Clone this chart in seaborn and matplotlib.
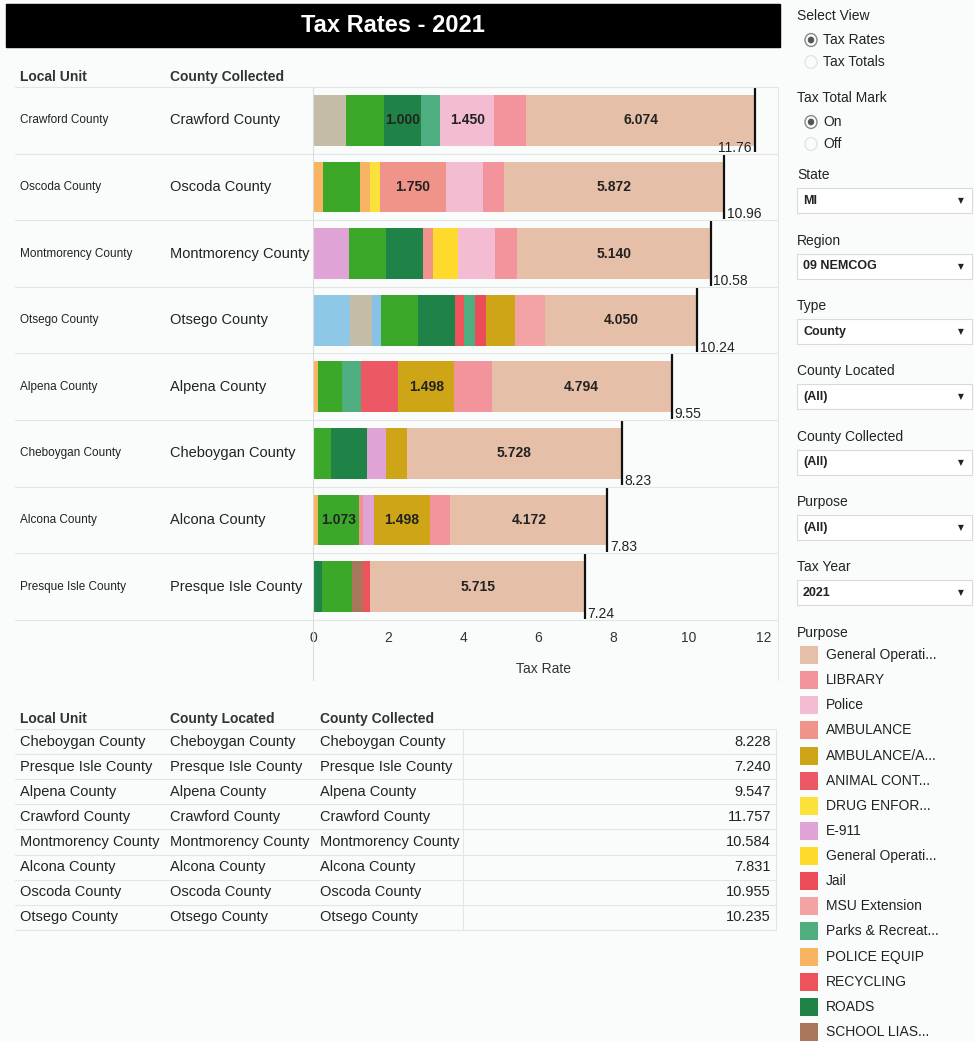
import numpy as np
import pandas as pd
import seaborn as sns
import matplotlib.pyplot as plt
from matplotlib.patches import Rectangle, Circle
from matplotlib.lines import Line2D

# counties, top to bottom in the bar chart
counties = ["Crawford County", "Oscoda County", "Montmorency County", "Otsego County",
            "Alpena County", "Cheboygan County", "Alcona County", "Presque Isle County"]

# purposes shown in the legend (display labels are truncated like the dashboard)
purposes = ["General Operating", "LIBRARY", "Police", "AMBULANCE", "AMBULANCE/ALS",
            "ANIMAL CONTROL", "DRUG ENFORCEMENT", "E-911", "General Operating Voted", "Jail",
            "MSU Extension", "Parks & Recreation", "POLICE EQUIP", "RECYCLING", "ROADS",
            "SCHOOL LIAISON"]
legend_labels = ["General Operati...", "LIBRARY", "Police", "AMBULANCE", "AMBULANCE/A...",
                 "ANIMAL CONT...", "DRUG ENFOR...", "E-911", "General Operati...", "Jail",
                 "MSU Extension", "Parks & Recreat...", "POLICE EQUIP", "RECYCLING", "ROADS",
                 "SCHOOL LIAS..."]
purpose_colors = ["#E6BFA8", "#F3939B", "#F4BCD3", "#F0938A", "#CDA516", "#EC5863", "#FCE13A",
                  "#E0A3D6", "#FDDA2B", "#EB4C58", "#F3A3A3", "#4EAE80", "#F8B460", "#EE535B",
                  "#1F8348", "#A8765A"]
# purposes further down the (scrolled) legend
hidden_purposes = ["SENIOR CITIZENS", "VETERANS", "SOIL CONSERVATION", "SOLDIERS RELIEF", "SHERIFF"]
hidden_colors = ["#3BA82A", "#8FC7E6", "#88C2E6", "#C4BCA6", "#F7B563"]

# segments of each bar, left to right (purpose, tax rate)
segments = {
    "Crawford County": [("SOLDIERS RELIEF", 0.89), ("SENIOR CITIZENS", 0.99), ("ROADS", 1.000),
                        ("Parks & Recreation", 0.50), ("Police", 1.450), ("LIBRARY", 0.853),
                        ("General Operating", 6.074)],
    "Oscoda County": [("POLICE EQUIP", 0.27), ("SENIOR CITIZENS", 0.99), ("SHERIFF", 0.27),
                      ("DRUG ENFORCEMENT", 0.25), ("AMBULANCE", 1.750), ("Police", 0.99),
                      ("LIBRARY", 0.563), ("General Operating", 5.872)],
    "Montmorency County": [("E-911", 0.96), ("SENIOR CITIZENS", 0.99), ("ROADS", 0.99),
                           ("AMBULANCE", 0.25), ("General Operating Voted", 0.66), ("Police", 0.99),
                           ("LIBRARY", 0.604), ("General Operating", 5.140)],
    "Otsego County": [("VETERANS", 0.99), ("SOLDIERS RELIEF", 0.58), ("SOIL CONSERVATION", 0.24),
                      ("SENIOR CITIZENS", 0.99), ("ROADS", 0.99), ("RECYCLING", 0.23),
                      ("Parks & Recreation", 0.28), ("Jail", 0.31), ("AMBULANCE/ALS", 0.775),
                      ("MSU Extension", 0.80), ("General Operating", 4.050)],
    "Alpena County": [("POLICE EQUIP", 0.135), ("SENIOR CITIZENS", 0.64), ("Parks & Recreation", 0.50),
                      ("ANIMAL CONTROL", 0.99), ("AMBULANCE/ALS", 1.498), ("LIBRARY", 0.99),
                      ("General Operating", 4.794)],
    "Cheboygan County": [("SENIOR CITIZENS", 0.47), ("ROADS", 0.98), ("E-911", 0.50),
                         ("AMBULANCE/ALS", 0.55), ("General Operating", 5.728)],
    "Alcona County": [("POLICE EQUIP", 0.14), ("SENIOR CITIZENS", 1.073), ("AMBULANCE", 0.13),
                      ("E-911", 0.27), ("AMBULANCE/ALS", 1.498), ("LIBRARY", 0.548),
                      ("General Operating", 4.172)],
    "Presque Isle County": [("ROADS", 0.23), ("SENIOR CITIZENS", 0.795), ("SCHOOL LIAISON", 0.31),
                            ("RECYCLING", 0.19), ("General Operating", 5.715)],
}

# order of the detail table below the chart
table_order = ["Cheboygan County", "Presque Isle County", "Alpena County", "Crawford County",
               "Montmorency County", "Alcona County", "Oscoda County", "Otsego County"]

palette = dict(zip(purposes + hidden_purposes, purpose_colors + hidden_colors))

rows = []
for c in counties:
    right = 0.0
    for rank, (p, v) in enumerate(segments[c]):
        right += v
        rows.append({"county": c, "purpose": p, "value": v, "rank": rank, "right": right})
df = pd.DataFrame(rows)
totals = df.groupby("county")["value"].sum().round(3)

W, H = 974, 1042
BG = "#FAFBFB"
FONT = "Liberation Sans"

sns.set_theme(style="white")
plt.rcParams["font.family"] = [FONT, "DejaVu Sans"]

fig = plt.figure(figsize=(W / 100, H / 100), dpi=100, facecolor=BG)


def fx(x):
    return x / W


def fy(y):
    return 1 - y / H


def hline(x0, x1, y, color="#E2E6E6", lw=0.8):
    fig.add_artist(Line2D([fx(x0), fx(x1)], [fy(y), fy(y)], color=color, lw=lw))


def vline(x, y0, y1, color="#E2E6E6", lw=0.8):
    fig.add_artist(Line2D([fx(x), fx(x)], [fy(y0), fy(y1)], color=color, lw=lw))


# title bar
fig.add_artist(Rectangle((fx(6), fy(47)), fx(780) - fx(6), fy(4) - fy(47), color="black"))
fig.text(fx(393), fy(26), "Tax Rates - 2021", color="white", fontsize=17, fontweight="bold",
         ha="center", va="center")

# chart header
fig.text(fx(20), fy(77), "Local Unit", fontsize=10, fontweight="bold", color="#333", va="center")
fig.text(fx(170), fy(77), "County Collected", fontsize=10, fontweight="bold", color="#333", va="center")

top, bottom = 87, 620
row_h = (bottom - top) / len(counties)
ax = fig.add_axes([fx(313), fy(bottom), (775 - 313) / W, (bottom - top) / H])
ax.set_facecolor("none")

# stacked bars: draw cumulative widths from the last segment to the first
for r in sorted(df["rank"].unique(), reverse=True):
    sub = df[df["rank"] == r]
    sns.barplot(data=sub, x="right", y="county", hue="purpose", palette=palette, order=counties,
                dodge=False, width=0.76, legend=False, errorbar=None, linewidth=0,
                saturation=1, ax=ax)

for i, c in enumerate(counties):
    left = 0.0
    for p, v in segments[c]:
        if v >= 1.0:
            ax.text(left + v / 2, i, f"{v:.3f}", ha="center", va="center", fontsize=10,
                    fontweight="bold", color="#222")
        left += v
    t = totals[c]
    ax.vlines(t, i - 0.49, i + 0.48, color="#111", lw=1.6)
    lab = f"{t + 1e-6:.2f}"
    if t > 11.5:
        ax.text(t - 0.07, i + 0.41, lab, ha="right", va="center", fontsize=10, color="#222")
    else:
        ax.text(t + 0.07, i + 0.41, lab, ha="left", va="center", fontsize=10, color="#222")

ax.set_xlim(0, 12.3)
ax.set_ylim(len(counties) - 0.5, -0.5)
ax.set_xticks([0, 2, 4, 6, 8, 10, 12])
ax.set_xticklabels(["0", "2", "4", "6", "8", "10", "12"], fontsize=10, color="#333")
ax.set_yticks([])
ax.set_ylabel("")
ax.set_xlabel("Tax Rate", fontsize=10, color="#333", labelpad=12)
ax.tick_params(axis="x", length=0, pad=8)
for s in ax.spines.values():
    s.set_visible(False)

# row labels and separators
for i, c in enumerate(counties):
    yc = top + (i + 0.5) * row_h
    fig.text(fx(20), fy(yc), c, fontsize=8.5, color="#222", va="center")
    fig.text(fx(170), fy(yc), c, fontsize=10.5, color="#222", va="center")
for k in range(len(counties) + 1):
    hline(15, 778, top + k * row_h)
vline(313, top, 680, color="#D8DCDC")
vline(778, top, 680)

# detail table
fig.text(fx(20), fy(719), "Local Unit", fontsize=10, fontweight="bold", color="#333", va="center")
fig.text(fx(170), fy(719), "County Located", fontsize=10, fontweight="bold", color="#333", va="center")
fig.text(fx(320), fy(719), "County Collected", fontsize=10, fontweight="bold", color="#333", va="center")
t_top, t_step = 729, 25.1
for k, c in enumerate(table_order):
    yc = t_top + (k + 0.5) * t_step
    for xx in (20, 170, 320):
        fig.text(fx(xx), fy(yc), c, fontsize=10.5, color="#222", va="center")
    fig.text(fx(771), fy(yc), f"{totals[c]:.3f}", fontsize=10.5, color="#222", va="center", ha="right")
for k in range(len(table_order) + 1):
    hline(15, 776, t_top + k * t_step)
vline(463, t_top, t_top + 8 * t_step)
vline(776, t_top, t_top + 8 * t_step)

# filter panel
PX = 797


def radio(y, label, on):
    fig.add_artist(Circle((fx(811), fy(y)), 6 / W, transform=fig.transFigure, fill=False,
                          ec="#888" if on else "#E4E4E4", lw=1))
    if on:
        fig.add_artist(Circle((fx(811), fy(y)), 2.5 / W, transform=fig.transFigure, color="#555"))
    fig.text(fx(823), fy(y), label, fontsize=10, color="#222", va="center")


def dropdown(ytitle, title, value):
    fig.text(fx(PX), fy(ytitle), title, fontsize=10, color="#222", va="center")
    y0 = ytitle + 13
    fig.add_artist(Rectangle((fx(PX), fy(y0 + 25)), fx(972) - fx(PX), fy(y0) - fy(y0 + 25),
                             fill=True, fc="white", ec="#DADADA", lw=0.8))
    fig.text(fx(803), fy(y0 + 12.5), value, fontsize=9, fontweight="bold", color="#222", va="center")
    fig.text(fx(961), fy(y0 + 13), "\u25bc", fontsize=5.5, color="#222", va="center", ha="center",
             family="DejaVu Sans")


fig.text(fx(PX), fy(16), "Select View", fontsize=10, color="#222", va="center")
radio(40, "Tax Rates", True)
radio(62, "Tax Totals", False)
fig.text(fx(PX), fy(98), "Tax Total Mark", fontsize=10, color="#222", va="center")
radio(122, "On", True)
radio(144, "Off", False)
dropdown(175, "State", "MI")
dropdown(241, "Region", "09 NEMCOG")
dropdown(306, "Type", "County")
dropdown(371, "County Located", "(All)")
dropdown(437, "County Collected", "(All)")
dropdown(502, "Purpose", "(All)")
dropdown(567, "Tax Year", "2021")

# color legend
fig.text(fx(PX), fy(633), "Purpose", fontsize=10, color="#222", va="center")
for k, (lab, col) in enumerate(zip(legend_labels, purpose_colors)):
    yc = 655 + k * 25.13
    fig.add_artist(Rectangle((fx(800), fy(yc + 9)), fx(818) - fx(800), fy(yc - 9) - fy(yc + 9),
                             color=col, lw=0))
    fig.text(fx(826), fy(yc), lab, fontsize=10, color="#222", va="center")

fig.savefig("out.png", dpi=100, facecolor=BG)
